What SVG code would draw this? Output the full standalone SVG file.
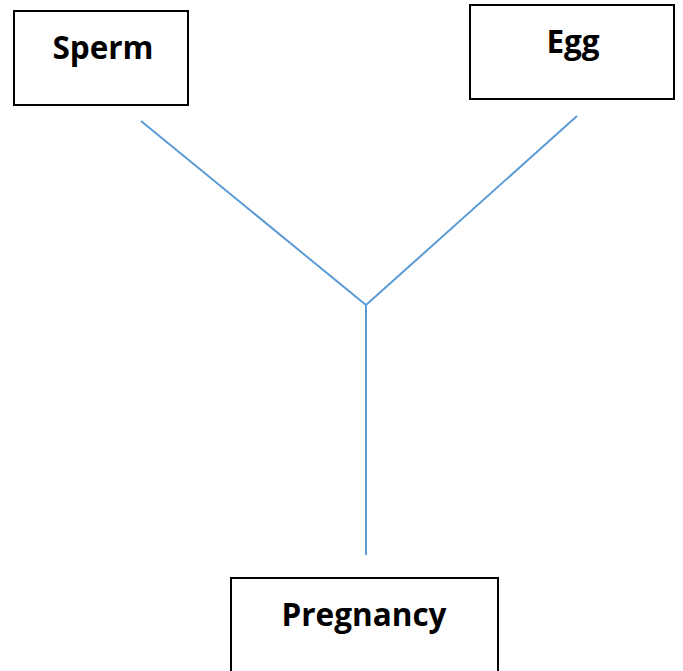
<svg xmlns="http://www.w3.org/2000/svg" width="683" height="671" viewBox="0 0 683 671">
<style>
.box{fill:#fff;stroke:#000;stroke-width:2}
.lbl{font-family:"Open Sans","Liberation Sans",sans-serif;font-weight:bold;font-size:31.5px;fill:#000;text-anchor:middle}
.conn{stroke:#5b9bd5;stroke-width:2;fill:none}
</style>
<rect width="683" height="671" fill="#fff"/>
<g id="connectors">
<line class="conn" x1="141" y1="121" x2="366" y2="305"/>
<line class="conn" x1="577" y1="116" x2="366" y2="305"/>
<line class="conn" x1="366" y1="305" x2="366" y2="555"/>
</g>
<g id="sperm">
<rect class="box" x="14" y="11" width="174" height="94"/>
<text class="lbl" x="103" y="59">Sperm</text>
</g>
<g id="egg">
<rect class="box" x="470" y="5" width="204" height="94"/>
<text class="lbl" x="573" y="53">Egg</text>
</g>
<g id="pregnancy">
<rect class="box" x="231" y="578" width="267" height="100"/>
<text class="lbl" x="364" y="626">Pregnancy</text>
</g>
</svg>
